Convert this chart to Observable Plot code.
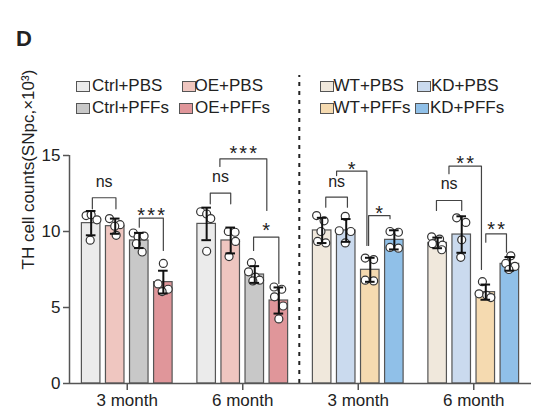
<!DOCTYPE html>
<html>
<head>
<meta charset="utf-8">
<script src="https://cdn.jsdelivr.net/npm/d3@7"></script>
<script src="https://cdn.jsdelivr.net/npm/@observablehq/plot@0.6"></script>
<style>
  html, body { margin: 0; padding: 0; background: #fff; }
  #wrap { position: relative; width: 535px; height: 413px; overflow: hidden;
          font-family: "Liberation Sans", Arial, Helvetica, sans-serif; color: #222; }
  #wrap svg { position: absolute; left: 0; top: 0; }
  .panel { position: absolute; left: 16px; top: 28px; font-size: 22px; font-weight: bold; line-height: 22px; }
  .lg-text { position: absolute; font-size: 17px; line-height: 17px; white-space: nowrap; }
  .lg-sw { position: absolute; width: 12px; height: 9px; border: 1px solid #555; }
</style>
</head>
<body>
<div id="wrap"><div class="panel">D</div></div>
<script>
// ---------- data ----------
const groupLabels = ["3 month", "6 month", "3 month", "6 month"];
const seriesNames = ["Ctrl+PBS", "OE+PBS", "Ctrl+PFFs", "OE+PFFs", "WT+PBS", "KD+PBS", "WT+PFFs", "KD+PFFs"];
const seriesColors = ["#ebebeb", "#efc6c0", "#c8c8c8", "#e0969a", "#f0e8dc", "#cadaee", "#f5dab0", "#90c0e8"];
const groupSeries = [[0, 1, 2, 3], [0, 1, 2, 3], [4, 5, 6, 7], [4, 5, 6, 7]];

// bar means and SDs, group by group (4 bars per group)
const means = [10.55, 10.35, 9.41, 6.67,  10.5, 9.41, 7.17, 5.46,  10.07, 10.07, 7.48, 9.45,  9.25, 9.8, 6.01, 7.87];
const sds   = [0.8, 0.5, 0.5, 0.75,  1.07, 0.85, 0.55, 0.86,  0.83, 0.75, 0.79, 0.63,  0.35, 1.2, 0.5, 0.45];

// individual points (values) and their horizontal offsets within the bar (bar-step units)
const pointValues = [
  [11.05, 11.1, 10.77, 9.43], [10.85, 10.45, 10.35, 9.75], [9.9, 9.65, 9.7, 9.2, 8.65], [7.9, 6.55, 6.2, 6.05],
  [11.3, 11.15, 10.85, 8.7], [10.0, 9.95, 9.35, 8.35], [7.95, 7.35, 7.0, 6.8, 6.75], [6.35, 6.2, 5.7, 5.1, 4.25],
  [11.05, 10.7, 10.0, 9.35, 9.25], [11.0, 10.05, 10.0, 9.25], [8.25, 8.15, 6.8, 6.75], [10.0, 9.95, 8.95, 8.9],
  [9.65, 9.5, 9.2, 9.1, 8.8], [10.9, 10.6, 9.45, 8.3], [6.7, 5.9, 5.8, 5.65], [8.4, 7.9, 7.7, 7.5]
];
const pointOffsets = [
  [-0.21, 0, 0.24, -0.04], [-0.24, 0.2, -0.02, 0.04], [-0.25, -0.05, 0.2, -0.12, 0.12], [0, -0.22, 0.2, -0.05],
  [-0.25, 0, 0.17, 0], [-0.1, 0.18, 0.2, -0.07], [-0.14, -0.26, 0.03, 0.2, -0.08], [-0.2, 0.12, -0.18, 0.18, 0],
  [-0.23, 0.08, -0.05, -0.19, 0.15], [-0.04, -0.29, 0.19, -0.04], [-0.21, 0.14, -0.21, 0.14], [-0.18, 0.17, -0.18, 0.17],
  [-0.25, 0.08, -0.22, 0.2, 0.17], [-0.21, 0.17, 0, -0.04], [-0.14, -0.28, 0.04, 0.21], [0.04, -0.17, 0.21, -0.04]
];

// significance brackets: [group, from bar, to bar, top, left end, right end, label, label baseline]
const brackets = [
  [0, 0.05, 1.03, 12.22, 11.49, 11.49, "ns", 12.91],
  [0, 2, 3, 10.88, 10.28, 8.75, "***", 10.62],
  [1, 0.15, 1, 12.52, 11.82, 11.82, "ns", 13.24],
  [1, 0.55, 2.5, 14.78, 14.28, 11.38, "***", 14.68],
  [1, 1.95, 3, 9.63, 8.75, 6.58, "*", 9.64],
  [2, 0.15, 1.05, 12.26, 11.6, 11.6, "ns", 12.96],
  [2, 0.6, 1.86, 13.97, 13.68, 9.08, "*", 13.65],
  [2, 1.93, 2.82, 11.05, 9.08, 10.84, "*", 10.76],
  [3, -0.05, 1, 12.04, 11.38, 11.38, "ns", 12.81],
  [3, 0.47, 1.82, 14.3, 13.8, 7.5, "**", 14.05],
  [3, 2.0, 2.86, 9.85, 9.3, 8.64, "**", 9.68]
];
const yTicks = [0, 5, 10, 15];
const yLabel = "TH cell counts(SNpc,×10³)";

// ---------- layout helpers ----------
const GROUP_W = 4.8, FIRST = 0.9, HALF = 0.385, CAP = 0.2;
const xc = (g, i) => g * GROUP_W + FIRST + i;
const groupCenters = groupLabels.map((_, g) => g * GROUP_W + FIRST + 1.5);

const bars = means.map((m, k) => {
  const g = Math.floor(k / 4), i = k % 4, s = groupSeries[g][i];
  return {g, i, s, x: xc(g, i), mean: m, sd: sds[k], fill: seriesColors[s]};
});
const pts = bars.flatMap((b, k) => pointValues[k].map((v, j) => ({x: b.x + pointOffsets[k][j], y: v})));
const caps = bars.flatMap(b => [b.mean - b.sd, b.mean + b.sd].map(y => ({x1: b.x - CAP, x2: b.x + CAP, y})));
const brRows = brackets.map(([g, a, b, top, eL, eR, label, ly], id) => ({id, g, a, b, top, eL, eR, label, ly}));
const brPath = brRows.flatMap(r => [
  {id: r.id, x: xc(r.g, r.a), y: r.eL},
  {id: r.id, x: xc(r.g, r.a), y: r.top},
  {id: r.id, x: xc(r.g, r.b), y: r.top},
  {id: r.id, x: xc(r.g, r.b), y: r.eR}
]);
const brLabels = brRows.map(r => ({x: (xc(r.g, r.a) + xc(r.g, r.b)) / 2, y: r.ly, label: r.label}));

const XMAX = 4 * GROUP_W;
const chart = Plot.plot({
  width: 535, height: 413,
  marginLeft: 69, marginRight: 4, marginTop: 155, marginBottom: 30,
  x: {domain: [0, XMAX]},
  y: {domain: [0, 15]},
  color: {type: "identity"},
  style: {fontFamily: '"Liberation Sans", Arial, Helvetica, sans-serif', fontSize: "17px", color: "#222", background: "transparent", overflow: "visible"},
  marks: [
    Plot.rectY(bars, {x1: d => d.x - HALF, x2: d => d.x + HALF, y1: 0, y2: "mean", fill: "fill", stroke: "#555", strokeWidth: 1.2}),
    Plot.dot(pts, {x: "x", y: "y", r: 4, fill: "white", stroke: "#333", strokeWidth: 1.2}),
    Plot.ruleX(bars, {x: "x", y1: d => d.mean - d.sd, y2: d => d.mean + d.sd, stroke: "#111", strokeWidth: 2}),
    Plot.ruleY(caps, {y: "y", x1: "x1", x2: "x2", stroke: "#111", strokeWidth: 2}),
    Plot.line(brPath, {x: "x", y: "y", z: "id", stroke: "#444", strokeWidth: 1.2}),
    Plot.text(brLabels.filter(d => d.label === "ns"), {x: "x", y: "y", text: "label", lineAnchor: "bottom", fontSize: 16, fill: "#222"}),
    Plot.text(brLabels.filter(d => d.label !== "ns"), {x: "x", y: "y", text: "label", lineAnchor: "bottom", fontSize: 20, dx: 1, fill: "#222"}),
    Plot.ruleX([9.55], {y1: 0, y2: 20.26, stroke: "#222", strokeWidth: 2, strokeDasharray: "4,5"}),
    Plot.ruleX([0], {y1: 0, y2: 15, stroke: "#555", strokeWidth: 1.5}),
    Plot.ruleY([0], {x1: 0, x2: XMAX, stroke: "#555", strokeWidth: 1.5}),
    Plot.axisY(yTicks, {tickSize: 6, tickPadding: 3, fontSize: 17, label: null, stroke: "#555", strokeWidth: 1.5}),
    Plot.axisX(groupCenters, {tickSize: 7, tickPadding: 3, fontSize: 17, label: null, tickFormat: (d, i) => groupLabels[i], stroke: "#555", strokeWidth: 1.5}),
    Plot.text([yLabel], {frameAnchor: "left", dx: -41, rotate: -90, fontSize: 17, fill: "#222"})
  ]
});
d3.select(chart).selectAll("text").filter(function () { return /^\*+$/.test(this.textContent); })
  .style("letter-spacing", "2.2px");
const wrap = document.getElementById("wrap");
wrap.insertBefore(chart, wrap.firstChild);

// ---------- legend ----------
const legendLayout = [
  // [series, swatch left, text left, row]
  [0, 76, 92, 0], [1, 181.5, 194.5, 0], [2, 76, 92, 1], [3, 178.5, 195, 1],
  [4, 319.5, 333.5, 0], [5, 417, 431, 0], [6, 319.5, 333.5, 1], [7, 415, 430, 1]
];
const rowSwatchTop = [80.5, 102.5], rowTextTop = [77.3, 99.4];
for (const [s, sx, tx, r] of legendLayout) {
  const sw = document.createElement("div");
  sw.className = "lg-sw";
  sw.style.left = sx + "px"; sw.style.top = rowSwatchTop[r] + "px";
  sw.style.background = seriesColors[s];
  wrap.appendChild(sw);
  const t = document.createElement("div");
  t.className = "lg-text";
  t.style.left = tx + "px"; t.style.top = rowTextTop[r] + "px";
  t.textContent = seriesNames[s];
  wrap.appendChild(t);
}
</script>
</body>
</html>
